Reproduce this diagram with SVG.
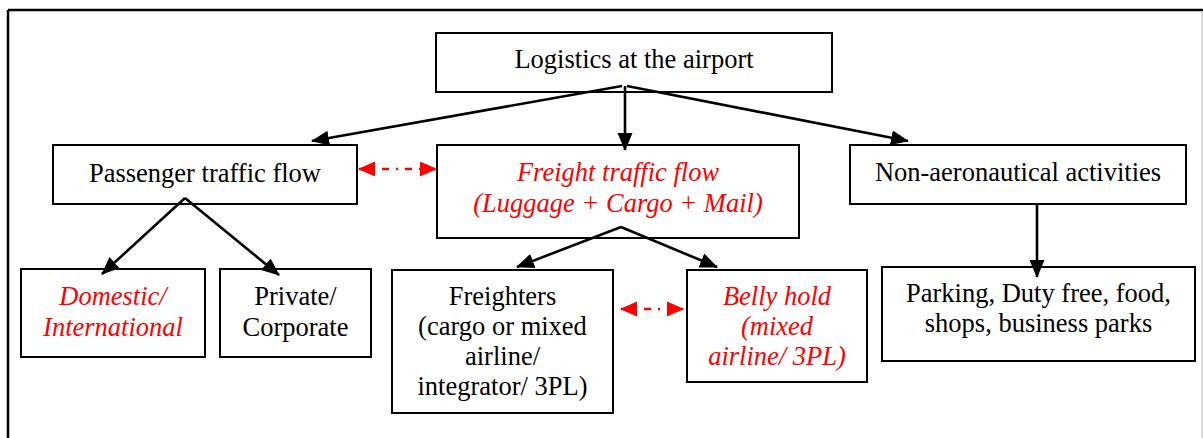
<svg xmlns="http://www.w3.org/2000/svg" width="1203" height="438" viewBox="0 0 1203 438">
<style>
.box{fill:#fff;stroke:#000;stroke-width:2}
text{font-family:'Liberation Serif','Times New Roman',Times,'DejaVu Serif',serif;font-size:26.5px;text-anchor:middle;fill:#000}
.r{fill:#f00;font-style:italic}
.c{stroke:#000;stroke-width:2.6;fill:none}
.d{stroke:#f00;stroke-width:2.6;fill:none;stroke-dasharray:7 7 2 7}
</style>
<defs>
<marker id="ah" markerUnits="userSpaceOnUse" markerWidth="19" markerHeight="16" refX="17" refY="7.5" orient="auto">
<path d="M0,0 L18,7.5 L0,15 z" fill="#000"/>
</marker>
<marker id="rh" markerUnits="userSpaceOnUse" markerWidth="18" markerHeight="16" refX="16" refY="7.5" orient="auto-start-reverse">
<path d="M0,0 L17,7.5 L0,15 z" fill="#f00"/>
</marker>
</defs>
<rect width="1203" height="438" fill="#fff"/>
<g id="frame">
<line x1="8" y1="10" x2="1203" y2="10" stroke="#000" stroke-width="2.5"/>
<line x1="8" y1="10" x2="8" y2="438" stroke="#000" stroke-width="2.5"/>
<line x1="1202" y1="12" x2="1202" y2="438" stroke="#ccc" stroke-width="1.5"/>
</g>
<g id="logistics">
<rect class="box" x="436" y="33" width="396" height="59"/>
<text x="634" y="68">Logistics at the airport</text>
</g>
<g id="passenger">
<rect class="box" x="53" y="145" width="304" height="59"/>
<text x="205" y="182">Passenger traffic flow</text>
</g>
<g id="freight">
<rect class="box" x="437" y="145" width="362" height="93"/>
<text class="r" x="618" y="181">Freight traffic flow</text>
<text class="r" x="618" y="212">(Luggage + Cargo + Mail)</text>
</g>
<g id="nonaero">
<rect class="box" x="850" y="145" width="336" height="59"/>
<text x="1018" y="181">Non-aeronautical activities</text>
</g>
<g id="domestic">
<rect class="box" x="21" y="269" width="184" height="88"/>
<text class="r" x="113" y="305">Domestic/</text>
<text class="r" x="113" y="336">International</text>
</g>
<g id="private">
<rect class="box" x="220" y="269" width="151" height="88"/>
<text x="295.5" y="305">Private/</text>
<text x="295.5" y="336">Corporate</text>
</g>
<g id="freighters">
<rect class="box" x="392" y="270" width="221" height="143"/>
<text x="502.5" y="305">Freighters</text>
<text x="502.5" y="335">(cargo or mixed</text>
<text x="502.5" y="365">airline/</text>
<text x="502.5" y="395">integrator/ 3PL)</text>
</g>
<g id="belly">
<rect class="box" x="687" y="270" width="180" height="112"/>
<text class="r" x="777" y="305">Belly hold</text>
<text class="r" x="777" y="335">(mixed</text>
<text class="r" x="777" y="365">airline/ 3PL)</text>
</g>
<g id="parking">
<rect class="box" x="882" y="267" width="313" height="94"/>
<text x="1038.5" y="302">Parking, Duty free, food,</text>
<text x="1038.5" y="332">shops, business parks</text>
</g>
<g id="connectors">
<line class="c" x1="622" y1="86" x2="312" y2="141" marker-end="url(#ah)"/>
<line class="c" x1="625" y1="86" x2="625" y2="150" marker-end="url(#ah)"/>
<line class="c" x1="627" y1="86" x2="908" y2="141" marker-end="url(#ah)"/>
<line class="c" x1="185" y1="198" x2="102" y2="274" marker-end="url(#ah)"/>
<line class="c" x1="185" y1="198" x2="279" y2="275" marker-end="url(#ah)"/>
<line class="c" x1="621" y1="227" x2="517" y2="267" marker-end="url(#ah)"/>
<line class="c" x1="621" y1="227" x2="717" y2="267" marker-end="url(#ah)"/>
<line class="c" x1="1037" y1="204" x2="1037" y2="277" marker-end="url(#ah)"/>
<line class="d" x1="359" y1="169" x2="436" y2="169" marker-start="url(#rh)" marker-end="url(#rh)"/>
<line class="d" x1="621" y1="309" x2="683" y2="309" marker-start="url(#rh)" marker-end="url(#rh)"/>
</g>
</svg>
